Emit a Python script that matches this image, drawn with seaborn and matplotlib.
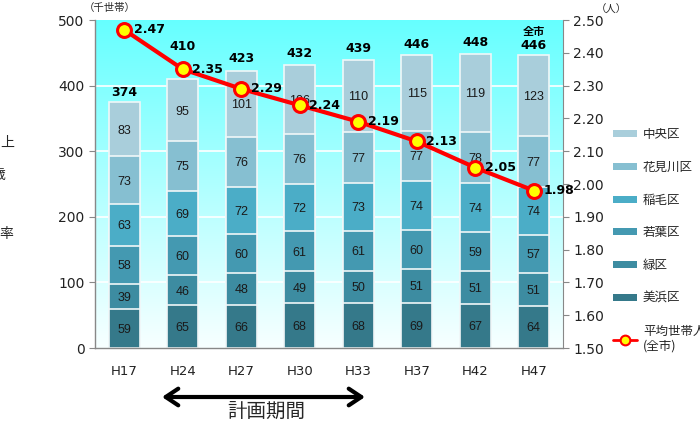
import numpy as np
import pandas as pd
import matplotlib
matplotlib.use("Agg")
import matplotlib.pyplot as plt
from matplotlib.lines import Line2D
from matplotlib.patches import Patch
from matplotlib.ticker import MultipleLocator, FormatStrFormatter
import seaborn as sns

# ---- data ----
years = ["H17", "H24", "H27", "H30", "H33", "H37", "H42", "H47"]
mihama = [59, 65, 66, 68, 68, 69, 67, 64]
midori = [39, 46, 48, 49, 50, 51, 51, 51]
wakaba = [58, 60, 60, 61, 61, 60, 59, 57]
inage = [63, 69, 72, 72, 73, 74, 74, 74]
hanamigawa = [73, 75, 76, 76, 77, 77, 78, 77]
chuo = [83, 95, 101, 106, 110, 115, 119, 123]
totals = [374, 410, 423, 432, 439, 446, 448, 446]
avg_size = [2.47, 2.35, 2.29, 2.24, 2.19, 2.13, 2.05, 1.98]

series_names = ["美浜区", "緑区", "若葉区", "稲毛区", "花見川区", "中央区"]
series_vals = [mihama, midori, wakaba, inage, hanamigawa, chuo]
colors = ["#35798A", "#3D8CA1", "#4499B1", "#4BADC7", "#86BFD1", "#A9CEDB"]
# vertical offsets (data units) of the total labels above the bars
total_offsets = [14, 50, 18, 17, 17, 17, 17, 15]

sns.set_style("white")
plt.rcParams["font.family"] = ["DejaVu Sans", "Noto Sans CJK JP"]

fig = plt.figure(figsize=(7, 4.21), dpi=100)
ax = fig.add_axes([95/700, 1-348/421, (563-95)/700, (348-20)/421])

# background gradient
grad = np.linspace(0, 1, 256)
top = np.array([0.40, 1.0, 1.0])
bot = np.array([0.97, 1.0, 1.0])
img = (top[None, :] * (1-grad)[:, None] + bot[None, :] * grad[:, None])[:, None, :]
ax.imshow(img, extent=[-0.5, 7.5, 0, 500], aspect="auto", zorder=0)
for yv in [100, 200, 300, 400]:
    ax.axhline(yv, color="white", lw=1.2, zorder=0.5)

# stacked bars (cumulative drawn from top down)
cum = np.cumsum(np.array(series_vals), axis=0)
df = pd.DataFrame({"year": years})
for i in range(len(series_names) - 1, -1, -1):
    df["v"] = cum[i]
    sns.barplot(data=df, x="year", y="v", color=colors[i], saturation=1,
                width=0.53, edgecolor="#F0F7F8", linewidth=1.2, ax=ax, zorder=2)

# segment labels
for i in range(len(series_names)):
    for j in range(len(years)):
        base = cum[i][j] - series_vals[i][j]
        ax.text(j, base + series_vals[i][j] / 2 - 2, str(series_vals[i][j]),
                ha="center", va="center", fontsize=9, color="#1a1a1a", zorder=3,
                family=["Liberation Sans", "DejaVu Sans"])
# totals
for j in range(len(years)):
    ax.text(j, cum[-1][j] + total_offsets[j], str(totals[j]), ha="center", va="center",
            fontsize=9, fontweight="bold", color="black", zorder=3)
ax.text(7, cum[-1][7] + 36, "全市", ha="center", va="center", fontsize=8,
        fontweight="bold", color="black", zorder=3, family=["Noto Sans CJK JP"])

ax.set_xlim(-0.5, 7.5)
ax.set_ylim(0, 500)
ax.set_xlabel("")
ax.set_ylabel("")
ax.yaxis.set_major_locator(MultipleLocator(100))
ax.set_xticks(range(8))
ax.set_xticklabels(years, fontsize=9.5, color="#222222")
ax.set_xticks(np.arange(-0.5, 8.0, 1), minor=True)
ax.tick_params(axis="x", which="major", length=0, pad=12)
ax.tick_params(axis="x", which="minor", length=4, color="#888888", direction="out")
ax.tick_params(axis="y", length=4, color="#888888", direction="out", labelsize=10,
               labelcolor="#222222")
for s in ["top", "right"]:
    ax.spines[s].set_visible(False)
for s in ["left", "bottom"]:
    ax.spines[s].set_color("#888888")
    ax.spines[s].set_linewidth(1)

# line on secondary axis
ax2 = ax.twinx()
sns.lineplot(x=np.arange(8), y=avg_size, ax=ax2, color="#FF0000", lw=3,
             marker="o", markersize=10, markerfacecolor="#FFFF00",
             markeredgecolor="#FF0000", markeredgewidth=2.2, zorder=5)
for j, v in enumerate(avg_size):
    ax2.text(j + 0.16, v, f"{v:.2f}", ha="left", va="center", fontsize=9,
             fontweight="bold", color="black", zorder=6)
ax2.set_ylim(1.5, 2.5)
ax2.set_xlim(-0.5, 7.5)
ax2.yaxis.set_major_locator(MultipleLocator(0.1))
ax2.yaxis.set_major_formatter(FormatStrFormatter("%.2f"))
ax2.tick_params(axis="y", length=4, color="#888888", direction="out", labelsize=10,
                labelcolor="#222222")
for s in ["top", "left", "bottom"]:
    ax2.spines[s].set_visible(False)
ax2.spines["right"].set_color("#888888")
ax2.set_ylabel("")

# unit labels
fig.text(84/700, 1-8/421, "（千世帯）", fontsize=7.5, ha="left", va="center",
         family=["Noto Sans CJK JP"])
fig.text(596/700, 1-10/421, "（人）", fontsize=7.5, ha="left", va="center",
         family=["Noto Sans CJK JP"])

# legend
handles = [Patch(facecolor=colors[i], edgecolor="none") for i in range(5, -1, -1)]
labels = [series_names[i] for i in range(5, -1, -1)]
handles.append(Line2D([0], [0], color="#FF0000", lw=2, marker="o", markersize=7,
                      markerfacecolor="#FFFF00", markeredgecolor="#FF0000",
                      markeredgewidth=1.5))
labels.append("平均世帯人員\n(全市)")
leg = fig.legend(handles, labels, loc="upper left", bbox_to_anchor=(608/700, 1-123/421),
                 frameon=False, handlelength=1.9, handleheight=0.5,
                 labelspacing=1.58, handletextpad=0.5, borderaxespad=0,
                 prop={"family": ["Noto Sans CJK JP"], "size": 9})

# clipped left side text
fig.text(14/700, 1-143/421, "上", fontsize=10, ha="right", va="center",
         family=["Noto Sans CJK JP"])
fig.text(5/700, 1-175/421, "歳", fontsize=10, ha="right", va="center",
         family=["Noto Sans CJK JP"])
fig.text(13/700, 1-234/421, "率", fontsize=10, ha="right", va="center",
         family=["Noto Sans CJK JP"])

# plan-period arrow
ax.annotate("", xy=(162/700, 1-397/421), xytext=(365/700, 1-397/421),
            xycoords="figure fraction", textcoords="figure fraction",
            arrowprops=dict(arrowstyle="<->,head_length=0.9,head_width=0.6",
                            lw=3, color="black", shrinkA=0, shrinkB=0),
            annotation_clip=False)
fig.text(266/700, 1-411/421, "計画期間", fontsize=14, ha="center", va="center",
         family=["Noto Sans CJK JP"])

fig.savefig("out.png", dpi=100)
